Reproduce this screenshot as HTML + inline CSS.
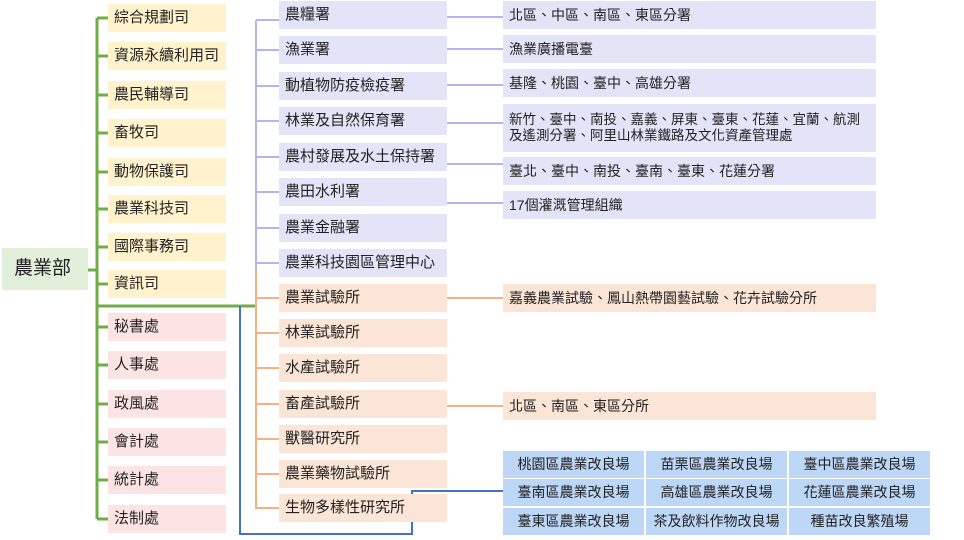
<!DOCTYPE html>
<html><head><meta charset="utf-8"><style>
body{margin:0;width:964px;height:540px;background:#fff;position:relative;overflow:hidden;font-family:"Liberation Sans","Noto Sans CJK TC",sans-serif;color:#222;}
.b{position:absolute;font-size:15px;line-height:28px;height:28px;box-sizing:border-box;padding-left:6px;white-space:nowrap;}
.y{background:#fff2cc;left:108px;width:118px;}
.p{background:#fde4e4;left:108px;width:118px;}
.l{background:#e4e4f8;left:279px;width:168px;}
.o{background:#fbe5d6;left:279px;width:168px;}
.rl{background:#e4e4f8;left:503px;width:373px;font-size:14px;}
.ro{background:#fbe5d6;left:503px;width:373px;font-size:14px;}
.g{background:#bdd7f7;position:absolute;width:141px;height:27px;line-height:27px;text-align:center;font-size:14px;}
</style></head><body>
<svg width="964" height="540" style="position:absolute;left:0;top:0">
<g stroke="#70ad47" stroke-width="3" fill="none">
<line x1="88" y1="270" x2="97" y2="270"/>
<line x1="97" y1="18" x2="97" y2="519"/>
<line x1="97" y1="306" x2="256" y2="306"/>
<path d="M97 18H108M97 56H108M97 95H108M97 133H108M97 172H108M97 209H108M97 247H108M97 284H108M97 327H108M97 365H108M97 404H108M97 442H108M97 480H108M97 519H108"/>
</g>
<g stroke="#b4b4f0" stroke-width="2" fill="none">
<line x1="256" y1="20" x2="256" y2="270"/>
<path d="M256 20H279M256 50H279M256 86H279M256 121H279M256 157H279M256 192H279M256 228H279M256 263H279"/>
<path d="M447 17H503M447 49H503M447 85H503M447 123H503M447 164H503M447 203H503"/>
</g>
<g stroke="#f4b183" stroke-width="2" fill="none">
<line x1="256" y1="270" x2="256" y2="509"/>
<path d="M256 298H279M256 333H279M256 368H279M256 404H279M256 439H279M256 474H279M256 508H279"/>
<path d="M447 298H503M447 406H503"/>
</g>
<path d="M240 306V534H412V491H503" stroke="#4472c4" stroke-width="2" fill="none"/>
</svg>
<div class="b" style="left:2px;top:248px;width:86px;height:42px;line-height:42px;background:#e2efda;font-size:19px;padding-left:12px">農業部</div>
<div class="b y" style="top:4px">綜合規劃司</div>
<div class="b y" style="top:42px">資源永續利用司</div>
<div class="b y" style="top:81px">農民輔導司</div>
<div class="b y" style="top:119px">畜牧司</div>
<div class="b y" style="top:158px">動物保護司</div>
<div class="b y" style="top:195px">農業科技司</div>
<div class="b y" style="top:233px">國際事務司</div>
<div class="b y" style="top:270px">資訊司</div>
<div class="b p" style="top:313px">秘書處</div>
<div class="b p" style="top:351px">人事處</div>
<div class="b p" style="top:390px">政風處</div>
<div class="b p" style="top:428px">會計處</div>
<div class="b p" style="top:466px">統計處</div>
<div class="b p" style="top:505px">法制處</div>
<div class="b l" style="top:1px">農糧署</div>
<div class="b l" style="top:36px">漁業署</div>
<div class="b l" style="top:72px">動植物防疫檢疫署</div>
<div class="b l" style="top:107px">林業及自然保育署</div>
<div class="b l" style="top:143px">農村發展及水土保持署</div>
<div class="b l" style="top:178px">農田水利署</div>
<div class="b l" style="top:214px">農業金融署</div>
<div class="b l" style="top:249px">農業科技園區管理中心</div>
<div class="b o" style="top:284px">農業試驗所</div>
<div class="b o" style="top:319px">林業試驗所</div>
<div class="b o" style="top:354px">水產試驗所</div>
<div class="b o" style="top:390px">畜產試驗所</div>
<div class="b o" style="top:425px">獸醫研究所</div>
<div class="b o" style="top:460px">農業藥物試驗所</div>
<div class="b o" style="top:494px">生物多樣性研究所</div>
<div class="b rl" style="top:1px">北區、中區、南區、東區分署</div>
<div class="b rl" style="top:35px">漁業廣播電臺</div>
<div class="b rl" style="top:69px">基隆、桃園、臺中、高雄分署</div>
<div class="b rl" style="top:104px;height:48px;line-height:16px;padding-top:8px;font-size:13.5px">新竹、臺中、南投、嘉義、屏東、臺東、花蓮、宜蘭、航測<br>及遙測分署、阿里山林業鐵路及文化資產管理處</div>
<div class="b rl" style="top:157px">臺北、臺中、南投、臺南、臺東、花蓮分署</div>
<div class="b rl" style="top:191px">17個灌溉管理組織</div>
<div class="b ro" style="top:284px">嘉義農業試驗、鳳山熱帶園藝試驗、花卉試驗分所</div>
<div class="b ro" style="top:392px">北區、南區、東區分所</div>
<div class="g" style="left:503px;top:451px">桃園區農業改良場</div>
<div class="g" style="left:646px;top:451px">苗栗區農業改良場</div>
<div class="g" style="left:789px;top:451px">臺中區農業改良場</div>
<div class="g" style="left:503px;top:479px">臺南區農業改良場</div>
<div class="g" style="left:646px;top:479px">高雄區農業改良場</div>
<div class="g" style="left:789px;top:479px">花蓮區農業改良場</div>
<div class="g" style="left:503px;top:508px">臺東區農業改良場</div>
<div class="g" style="left:646px;top:508px">茶及飲料作物改良場</div>
<div class="g" style="left:789px;top:508px">種苗改良繁殖場</div>
</body></html>
